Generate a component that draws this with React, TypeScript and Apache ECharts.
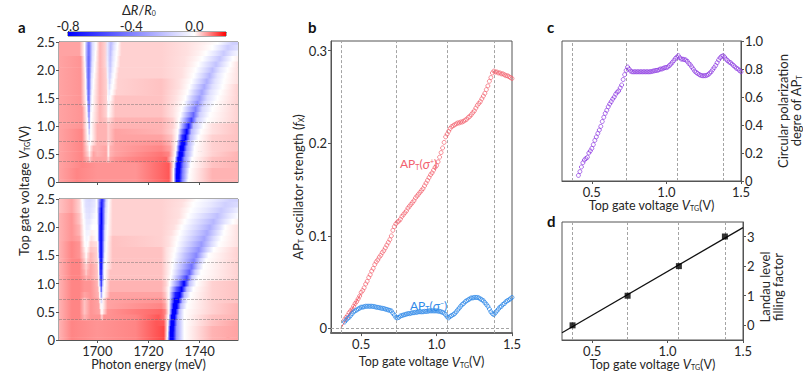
import React, { useEffect, useRef } from "react";
import * as echarts from "echarts";

const plateaus = [0.37, 0.735, 1.075, 1.38];
const energyTicks = [1700, 1720, 1740];
const gateTicks = [0, 0.5, 1, 1.5, 2, 2.5];
const voltageTicks = [0.5, 1, 1.5];
const strengthTicks = [0, 0.1, 0.2, 0.3];
const polarizationTicks = [0, 0.2, 0.4, 0.6, 0.8, 1];
const fillingTicks = [0, 1, 2, 3];
const colorbarTicks = [-0.8, -0.4, 0];

// reflectance rows: [gate voltage, energy, dR/R0 x100, energy, dR/R0 x100, ...]
const rowsSigmaMinus: number[][] = [
  [2.5, 1685,6, 1693,6, 1695,0, 1696,-30, 1696.7,-45, 1698,-12, 1699.5,0, 1701,5, 1703,3, 1704,-8, 1705.3,-22, 1706.5,-10, 1708,0, 1709.5,3, 1725,3, 1735,2, 1742,1, 1747,0, 1750,-8, 1752.8,-15, 1755,-15],
  [2.4, 1685,6, 1693,6, 1695,0, 1696,-32, 1696.7,-47, 1698,-12, 1699.5,0, 1701,5, 1703,3, 1704,-8, 1705.2,-22, 1706.4,-9, 1707.8,0, 1709.5,3, 1725,3, 1735,2, 1741,1, 1745,0, 1748,-8, 1751,-16, 1755,-10],
  [2.3, 1685,6, 1693,6, 1695,0, 1696,-33, 1696.7,-48, 1698,-11, 1699.3,0, 1701,5, 1703,3, 1704,-8, 1705.1,-21, 1706.2,-8, 1707.6,0, 1709.5,3, 1725,3, 1735,2, 1739.5,1, 1742.5,0, 1746,-8, 1749.4,-17, 1753,-7, 1755,-3],
  [2.2, 1685,6, 1693.5,7, 1695.1,0, 1696,-35, 1696.7,-50, 1698,-10, 1699.2,0, 1701,5, 1703,3, 1704,-7, 1705,-20, 1706.1,-8, 1707.4,0, 1709,3, 1725,3, 1734,2, 1738,1, 1741,0, 1744.5,-9, 1747.9,-18, 1751,-7, 1753,0, 1755,1],
  [2.1, 1685,6, 1693.5,7, 1695.2,0, 1696,-35, 1696.7,-50, 1697.9,-10, 1699,0, 1701,5, 1703,3, 1704,-6, 1705,-19, 1706,-7, 1707.2,0, 1709,3, 1725,3, 1734,2, 1737,1, 1739.5,0, 1743,-10, 1746.4,-19, 1749.5,-8, 1752,0, 1755,2],
  [2.0, 1685,6, 1693.5,7, 1695.3,0, 1696,-35, 1696.7,-50, 1697.8,-10, 1698.9,0, 1701,5, 1703.3,3, 1704,-5, 1705,-17, 1705.9,-6, 1706.9,0, 1708.5,3, 1725,3, 1733,2, 1738.5,0, 1742,-11, 1745,-21, 1748,-8, 1751,0, 1755,2],
  [1.9, 1685,6, 1693.5,7, 1695.4,0, 1696,-35, 1696.7,-50, 1697.7,-10, 1698.7,0, 1701,5, 1703.4,3, 1704,-4, 1704.9,-15, 1705.8,-4, 1706.6,0, 1708.3,3, 1725,3, 1733,2, 1737.7,0, 1741,-12, 1743.9,-23, 1747,-8, 1750,0, 1755,2],
  [1.8, 1685,6, 1693.5,7, 1695.5,0, 1696.1,-35, 1696.7,-50, 1697.6,-10, 1698.5,0, 1701,5, 1703.5,3, 1704.1,-3, 1704.8,-13, 1705.5,-4, 1706.3,0, 1708,3, 1725,4, 1732,2, 1736.8,0, 1740,-13, 1742.8,-25, 1746,-9, 1749.5,0, 1755,2],
  [1.7, 1685,6, 1693.5,7, 1695.5,0, 1696.1,-35, 1696.7,-50, 1697.6,-10, 1698.4,0, 1701,5, 1703.5,3, 1704.1,-2, 1704.7,-10, 1705.3,-3, 1706,0, 1708,3, 1725,4, 1732,2, 1736,0, 1739,-14, 1741.8,-27, 1745,-10, 1749,0, 1755,3],
  [1.6, 1685,6, 1693.5,7, 1695.6,0, 1696.2,-35, 1696.7,-50, 1697.5,-10, 1698.2,0, 1701,5, 1703.6,3, 1704.1,-1, 1704.6,-7, 1705.1,-2, 1705.7,0, 1707.5,3, 1725,4, 1731,2, 1735.3,0, 1738,-15, 1740.9,-29, 1744,-10, 1748,0, 1755,3],
  [1.5, 1685,6, 1693.5,7, 1695.7,0, 1696.2,-35, 1696.7,-50, 1697.4,-10, 1698,0, 1701,5, 1703.6,3, 1704,0, 1704.5,-4, 1705,0, 1705.5,1, 1707,4, 1725,4, 1730.5,2, 1734.5,0, 1737,-16, 1740,-31, 1743,-11, 1747,0, 1755,3],
  [1.4, 1685,6, 1693.5,7, 1695.8,0, 1696.3,-30, 1696.8,-45, 1697.4,-8, 1698,0, 1701,5, 1703.5,3, 1704.3,-2, 1705,1, 1707,4, 1725,4, 1730,2, 1733.8,0, 1736.5,-18, 1739.2,-35, 1742,-12, 1746,0, 1755,3],
  [1.3, 1685,6, 1694,7, 1695.9,0, 1696.4,-30, 1696.8,-45, 1697.3,-8, 1697.9,0, 1701,5, 1703.5,3, 1704.2,-1, 1705,1, 1707,4, 1725,4, 1729.5,2, 1733,0, 1735.7,-20, 1738.4,-40, 1741,-13, 1745,0, 1755,3],
  [1.2, 1685,6, 1694,7, 1696,0, 1696.4,-25, 1696.8,-40, 1697.2,-6, 1697.7,0, 1701,5, 1703.5,3, 1704.2,0, 1704.9,1, 1707,4, 1725,4, 1729.5,2, 1732.5,0, 1735,-24, 1737.6,-48, 1740,-15, 1744,0, 1755,3],
  [1.1, 1685,6, 1694,7, 1696.1,0, 1696.5,-22, 1696.8,-35, 1697.2,-5, 1697.6,0, 1701,5, 1703.5,4, 1704.2,2, 1705,3, 1707,5, 1725,5, 1729.5,3, 1732,0, 1734.5,-30, 1736.8,-60, 1739,-16, 1743,0, 1755,3],
  [1.0, 1685,6, 1694,7, 1696.1,0, 1696.6,-15, 1696.9,-25, 1697.2,-4, 1697.5,0, 1700,5, 1703.5,5, 1704.2,3, 1705,4, 1707,5, 1725,5, 1729.5,3, 1731.8,0, 1734,-40, 1735.7,-72, 1737.6,-20, 1741.5,0, 1745,2, 1755,4],
  [0.9, 1685,6, 1694,8, 1696.2,0, 1696.6,-10, 1696.9,-15, 1697.2,-3, 1697.5,0, 1700,5, 1703.5,5, 1704.2,3, 1705,4, 1707,6, 1725,5, 1729,3, 1731.5,0, 1733.5,-50, 1735,-80, 1736.8,-22, 1740.5,0, 1745,2, 1755,4],
  [0.8, 1685,6, 1694,8, 1696.3,0, 1696.7,-6, 1697,-8, 1697.3,-1, 1697.6,0, 1700,5, 1703.5,5, 1704.2,3, 1705,4, 1707,6, 1725,6, 1729,4, 1731.3,0, 1733.2,-65, 1734.5,-85, 1736.3,-22, 1739.5,0, 1745,3, 1755,4],
  [0.7, 1685,6, 1694,8, 1696.4,1, 1696.8,-3, 1697.2,-1, 1697.6,1, 1700,5, 1703.5,5, 1704.3,2, 1705,4, 1707,6, 1725,7, 1728.5,5, 1731,0, 1732.8,-75, 1734,-90, 1735.6,-25, 1738.5,0, 1745,3, 1755,4],
  [0.6, 1685,6, 1694,8, 1696.4,2, 1696.9,0, 1697.4,2, 1698.5,5, 1700,5, 1703.5,6, 1704.3,1, 1705,5, 1707,6, 1725,8, 1728.5,6, 1730.8,0, 1732.4,-80, 1733.6,-95, 1735,-30, 1738,0, 1745,3, 1755,4],
  [0.5, 1685,6, 1694,8, 1696.4,3, 1696.9,1, 1697.4,3, 1698.5,6, 1700,5, 1703.5,6, 1704.3,1, 1705,5, 1707,6, 1725,9, 1728,8, 1730.5,0, 1732,-80, 1733.2,-95, 1734.6,-30, 1737.8,0, 1745,3, 1755,5],
  [0.4, 1685,6, 1694,8, 1696.5,5, 1696.9,3, 1697.5,5, 1698.5,6, 1700,6, 1703.5,6, 1704.3,3, 1705,6, 1707,7, 1722,9, 1727,10, 1730.3,0, 1731.5,-85, 1732.7,-95, 1734,-35, 1737,0, 1745,4, 1755,5],
  [0.3, 1685,6, 1694,8, 1700,7, 1715,7, 1725,10, 1728,11, 1730,0, 1731.1,-85, 1732.3,-95, 1733.6,-40, 1736.5,0, 1745,4, 1755,5],
  [0.2, 1685,6, 1692,8, 1700,7, 1715,7, 1725,10, 1728,11, 1729.8,0, 1731,-85, 1732.1,-95, 1733.4,-40, 1736,0, 1745,5, 1755,5],
  [0.1, 1685,6, 1692,8, 1700,7, 1715,7, 1725,10, 1728,11, 1729.8,0, 1730.9,-85, 1732,-95, 1733.3,-40, 1735.8,0, 1745,5, 1755,5],
  [0, 1685,6, 1692,8, 1700,7, 1715,7, 1725,10, 1728,11, 1729.8,0, 1730.9,-85, 1732,-95, 1733.2,-40, 1735.5,0, 1745,5, 1755,5],
];

const rowsSigmaPlus: number[][] = [
  [2.5, 1685,4, 1690,6, 1693,3, 1694,0, 1695.5,-10, 1697,-12, 1699,-8, 1699.7,0, 1700.9,-40, 1701.8,-70, 1702.6,-45, 1703.4,-12, 1704.5,0, 1706,3, 1725,3, 1734,2, 1738.7,0, 1745,-6, 1751.7,-14, 1755,-14],
  [2.4, 1685,4, 1690,6, 1693,3, 1694.2,0, 1695.5,-10, 1697,-11, 1699,-7, 1699.8,0, 1700.9,-45, 1701.7,-72, 1702.5,-45, 1703.3,-12, 1704.4,0, 1706,3, 1725,3, 1733,2, 1737.5,0, 1744,-7, 1750,-15, 1755,-11],
  [2.3, 1685,4, 1690,6, 1693,3, 1694.3,0, 1695.6,-9, 1697,-10, 1698.8,-6, 1699.8,0, 1700.8,-50, 1701.6,-78, 1702.4,-45, 1703.2,-12, 1704.3,0, 1706,3, 1725,3, 1732,2, 1736.5,0, 1742.5,-8, 1748.4,-17, 1753,-9, 1755,-5],
  [2.2, 1685,5, 1690,7, 1693,4, 1694.5,0, 1695.7,-8, 1697,-9, 1698.5,-4, 1699.9,0, 1700.8,-55, 1701.6,-80, 1702.3,-50, 1703.1,-12, 1704.2,0, 1706,3, 1725,3, 1732,2, 1735.5,0, 1741,-10, 1746.9,-20, 1751.5,-8, 1755,-1],
  [2.1, 1685,5, 1690,7, 1693,4, 1694.7,0, 1695.8,-7, 1697,-7, 1698.3,-2, 1699.9,0, 1700.8,-55, 1701.6,-80, 1702.3,-50, 1703.1,-12, 1704.1,0, 1706,3, 1725,3, 1731,2, 1734.2,0, 1740,-12, 1745.4,-23, 1750,-8, 1753,0, 1755,1],
  [2.0, 1685,5, 1690,7, 1693,5, 1694.8,0, 1695.8,-6, 1696.8,-5, 1698,0, 1700,0, 1700.8,-60, 1701.5,-85, 1702.2,-55, 1703,-10, 1704,0, 1706,3, 1725,3, 1730,2, 1733,0, 1739,-13, 1744,-25, 1748,-10, 1750,0, 1755,2],
  [1.9, 1685,5, 1690,7, 1693,5, 1694.9,0, 1695.8,-4, 1696.7,-3, 1697.8,1, 1700,0, 1700.8,-60, 1701.5,-85, 1702.2,-50, 1702.9,-10, 1703.8,0, 1706,3, 1725,3, 1729,2, 1732.2,0, 1738,-14, 1742.9,-27, 1747,-10, 1749.5,0, 1755,2],
  [1.8, 1685,5, 1690,7, 1693,6, 1695,0, 1695.8,-3, 1696.6,-1, 1697.6,2, 1700,0, 1700.8,-60, 1701.5,-85, 1702.2,-50, 1702.9,-10, 1703.7,0, 1706,4, 1725,3, 1728,2, 1731.5,0, 1737,-15, 1741.8,-29, 1745.5,-11, 1748.5,0, 1755,2],
  [1.7, 1685,5, 1690,8, 1693,7, 1695.1,0, 1695.7,-2, 1696.3,0, 1697.4,3, 1699.8,2, 1700.2,0, 1700.9,-60, 1701.5,-85, 1702.1,-50, 1702.8,-10, 1703.5,0, 1706,4, 1725,3, 1728,2, 1731,0, 1736,-16, 1740.7,-32, 1744.5,-12, 1747.5,0, 1755,2],
  [1.6, 1685,5, 1690,8, 1693,7, 1695.2,1, 1695.6,0, 1696.2,1, 1697.4,4, 1699.8,3, 1700.2,0, 1700.9,-60, 1701.5,-85, 1702.1,-50, 1702.8,-10, 1703.4,0, 1706,4, 1725,4, 1727,2, 1730.5,0, 1735,-18, 1739.7,-35, 1743,-13, 1745.5,0, 1755,3],
  [1.5, 1685,5, 1690,8, 1693,7, 1695.2,2, 1695.6,0, 1696.1,2, 1697.4,5, 1699.8,3, 1700.3,0, 1700.9,-60, 1701.5,-85, 1702.1,-50, 1702.7,-8, 1703.3,0, 1706,4, 1725,4, 1727,2, 1730,0, 1734.3,-20, 1738.7,-38, 1741.5,-14, 1743.5,0, 1755,3],
  [1.4, 1685,5, 1690,8, 1693,8, 1695.2,3, 1695.6,1, 1696.1,3, 1697.4,5, 1699.9,3, 1700.4,0, 1701,-60, 1701.5,-85, 1702,-50, 1702.6,-8, 1703.2,0, 1706,4, 1725,4, 1727,2, 1729.6,0, 1733.8,-20, 1737.8,-40, 1740.3,-14, 1742.5,0, 1755,3],
  [1.3, 1685,5, 1690,8, 1693,8, 1695.2,4, 1695.6,3, 1696.1,4, 1697.4,6, 1699.9,4, 1700.5,0, 1701,-60, 1701.5,-80, 1702,-45, 1702.5,-6, 1703,0, 1706,4, 1725,4, 1727,2, 1729.3,0, 1733.2,-22, 1736.9,-45, 1739.3,-16, 1741.5,0, 1755,3],
  [1.2, 1685,5, 1690,8, 1693,8, 1695.2,5, 1695.6,3, 1696.1,5, 1697.4,6, 1700,4, 1700.5,0, 1701,-55, 1701.5,-75, 1702,-40, 1702.5,-6, 1702.9,0, 1705,4, 1725,4, 1727,2, 1729,0, 1732.8,-25, 1736,-50, 1738.2,-16, 1740.5,0, 1755,3],
  [1.1, 1685,5, 1690,8, 1693,8, 1695,6, 1695.7,5, 1696.3,6, 1697.4,6, 1700,4, 1700.6,0, 1701.1,-50, 1701.5,-72, 1702,-35, 1702.8,0, 1705,4, 1725,4, 1726.8,2, 1728.7,0, 1732.3,-30, 1735,-60, 1737,-16, 1739.5,0, 1755,3],
  [1.0, 1685,5, 1690,8, 1693,8, 1695,7, 1697.4,7, 1700,5, 1700.6,0, 1701.1,-35, 1701.6,-62, 1702.1,-16, 1702.8,0, 1705,5, 1725,5, 1726.8,3, 1728.3,0, 1731.8,-40, 1733.9,-80, 1736,-20, 1738.7,0, 1745,3, 1755,4],
  [0.9, 1685,5, 1690,8, 1693,8, 1695,7, 1697.4,7, 1700.2,5, 1700.8,0, 1701.2,-25, 1701.6,-48, 1702,-12, 1702.6,0, 1705,5, 1725,5, 1726.5,3, 1728,0, 1731,-55, 1733,-90, 1735,-20, 1737.5,0, 1745,3, 1755,4],
  [0.8, 1685,5, 1690,8, 1693,8, 1695,6, 1697.4,7, 1700.4,5, 1700.9,0, 1701.3,-15, 1701.6,-28, 1702,-8, 1702.5,0, 1705,6, 1725,6, 1726.5,4, 1728,0, 1730.5,-70, 1732.3,-95, 1734,-22, 1736.5,0, 1745,3, 1755,4],
  [0.7, 1685,5, 1690,8, 1693,8, 1695,4, 1697.4,7, 1700.4,6, 1701,1, 1701.6,-10, 1702.2,1, 1704,6, 1725,7, 1726.5,5, 1728,0, 1730.2,-80, 1731.7,-95, 1733.3,-22, 1735.5,0, 1745,3, 1755,4],
  [0.6, 1685,5, 1690,8, 1693,8, 1695,4, 1697.4,7, 1700.6,6, 1701.2,1, 1701.7,-2, 1702.2,1, 1704,6, 1725,8, 1726.5,6, 1728,0, 1729.8,-85, 1731.1,-95, 1732.6,-22, 1735,0, 1745,3, 1755,5],
  [0.5, 1685,5, 1690,8, 1693,8, 1695,4, 1697.4,7, 1700.8,6, 1701.3,2, 1701.8,0, 1702.3,2, 1704,7, 1725,10, 1726.5,8, 1728,0, 1729.4,-85, 1730.6,-95, 1732,-22, 1734,0, 1745,3, 1755,5],
  [0.4, 1685,5, 1690,8, 1693,8, 1695,5, 1697.4,7, 1701,7, 1701.8,3, 1702.5,7, 1715,8, 1724,11, 1726,9, 1727.8,0, 1729,-85, 1730.2,-95, 1731.5,-25, 1734,0, 1745,4, 1755,5],
  [0.3, 1685,5, 1690,8, 1700,7, 1715,8, 1723,11, 1726,11, 1727.6,0, 1728.8,-85, 1729.9,-95, 1731.2,-28, 1734,0, 1745,4, 1755,6],
  [0.2, 1685,5, 1690,8, 1700,7, 1715,8, 1723,11, 1726,12, 1727.5,0, 1728.6,-85, 1729.7,-95, 1731,-30, 1734,0, 1745,5, 1755,6],
  [0.1, 1685,5, 1690,8, 1700,7, 1715,8, 1723,11, 1726,12, 1727.4,0, 1728.5,-85, 1729.6,-95, 1731,-30, 1734,0, 1745,5, 1755,6],
  [0, 1685,5, 1690,8, 1700,7, 1715,8, 1723,11, 1726,12, 1727.3,0, 1728.5,-85, 1729.6,-95, 1731,-30, 1734,0, 1745,5, 1755,6],
];

const gateVoltages = [
  0.39,0.40,0.41,0.42,0.43,0.44,0.45,0.46,0.47,0.48,0.49,0.50,0.51,0.52,0.53,0.54,0.55,0.56,0.57,0.58,0.59,0.60,
  0.61,0.62,0.63,0.64,0.65,0.66,0.67,0.68,0.69,0.70,0.71,0.72,0.73,0.74,0.75,0.76,0.77,0.78,0.79,0.80,
  0.81,0.82,0.83,0.84,0.85,0.86,0.87,0.88,0.89,0.90,0.91,0.92,0.93,0.94,0.95,0.96,0.97,0.98,0.99,1.00,
  1.01,1.02,1.03,1.04,1.05,1.06,1.07,1.08,1.09,1.10,1.11,1.12,1.13,1.14,1.15,1.16,1.17,1.18,1.19,1.20,
  1.21,1.22,1.23,1.24,1.25,1.26,1.27,1.28,1.29,1.30,1.31,1.32,1.33,1.34,1.35,1.36,1.37,1.38,1.39,1.40,
  1.41,1.42,1.43,1.44,1.45,1.46,1.47,1.48,1.49,1.50,
];
const strengthSigmaPlus = [
  .0095,.012,.014,.017,.019,.021,.024,.027,.029,.032,.035,.039,.041,.044,.048,.051,.055,.058,.062,.065,.069,.072,
  .074,.077,.079,.082,.084,.087,.090,.093,.096,.100,.106,.110,.113,.115,.116,.118,.121,.123,.125,.127,
  .130,.132,.134,.136,.138,.141,.143,.145,.147,.149,.151,.154,.157,.160,.163,.166,.168,.171,.174,.176,
  .180,.185,.190,.195,.201,.207,.210,.213,.216,.218,.219,.220,.221,.222,.222,.223,.223,.224,.225,.226,
  .228,.229,.231,.233,.235,.238,.241,.243,.245,.248,.251,.254,.258,.262,.267,.271,.276,.278,.277,.277,
  .276,.276,.275,.275,.274,.273,.273,.272,.271,.270,
];
const strengthSigmaMinus = [
  .007,.009,.011,.012,.014,.016,.018,.019,.020,.021,.022,.023,.023,.0235,.024,.024,.024,.024,.024,.0238,.0235,.023,
  .0228,.0225,.022,.0218,.0215,.021,.0205,.020,.0195,.019,.0165,.0145,.012,.0115,.012,.0135,.014,.0145,.015,.0155,
  .016,.016,.0165,.017,.017,.0175,.0175,.018,.018,.018,.018,.0185,.0185,.0185,.019,.019,.019,.019,.019,.019,
  .0188,.0185,.018,.0175,.0165,.015,.0125,.0115,.013,.014,.015,.016,.018,.020,.022,.024,.026,.027,.029,.030,
  .031,.032,.033,.033,.0335,.0335,.0335,.033,.032,.031,.030,.028,.026,.024,.021,.018,.016,.015,.017,.019,
  .021,.023,.024,.026,.027,.029,.030,.031,.032,.0335,
];
const polarizationVoltages = gateVoltages.slice(2);
const polarizationDegree = [
  .04,.067,.10,.13,.15,.16,.17,.20,.215,.233,.26,.29,.315,.34,.364,.39,.425,.455,.483,.505,
  .53,.55,.567,.585,.60,.62,.635,.643,.665,.686,.725,.76,.79,.814,.80,.785,.78,.78,.78,.78,
  .78,.78,.78,.78,.78,.78,.78,.78,.78,.782,.785,.787,.79,.79,.795,.80,.80,.805,.81,.81,
  .815,.825,.835,.848,.86,.875,.885,.895,.88,.871,.87,.868,.864,.855,.84,.83,.815,.80,.785,.775,
  .768,.76,.755,.752,.752,.752,.755,.76,.77,.78,.795,.81,.825,.845,.865,.88,.89,.895,.885,.87,
  .86,.85,.845,.835,.825,.815,.805,.80,.79,.78,
];
const fillingVoltages = plateaus;
const fillingFactors = [0, 1, 2, 3];
const fillingFitVoltages = [0.3, 1.5];
const fillingFit = [-0.25, 3.3];
const oscillatorFitVoltages = [0.365, 0.5];
const oscillatorFit = [0, 0.038];

const FONT = "Lato";
const TEXT = "#262626";
const LINE = "#555555";
const RED = "#f2616e";
const BLUE = "#2f8ae8";
const PURPLE = "#8a35e0";

function colorOf(hundredths: number, gain = 1) {
  const v = hundredths / 100;
  if (v < 0) {
    const t = Math.min(1, -v / 0.8);
    const c = Math.round(255 * (1 - t));
    return `rgb(${c},${c},255)`;
  }
  const c = Math.round(255 * (1 - Math.min(1, (gain * v) / 0.2)));
  return `rgb(255,${c},${c})`;
}

function heatRenderer(rows: number[][]) {
  return (params: any, api: any) => {
    const row = rows[params.dataIndex];
    const v = row[0];
    const p0 = api.coord([1685, Math.min(2.5, v + 0.05)]);
    const p1 = api.coord([1755, Math.max(0, v - 0.05)]);
    const stops: { offset: number; color: string }[] = [];
    for (let i = 1; i < row.length; i += 2) {
      stops.push({ offset: (row[i] - 1685) / 70, color: colorOf(row[i + 1], 1.2) });
    }
    return {
      type: "rect",
      shape: { x: p0[0], y: p0[1], width: p1[0] - p0[0], height: p1[1] - p0[1] + 0.6 },
      style: { fill: new echarts.graphic.LinearGradient(0, 0, 1, 0, stops), stroke: null },
    };
  };
}

const fmt1 = (v: number) => (v === 0 ? "0" : v.toFixed(1));
const rich = {
  i: { fontStyle: "italic", fontFamily: FONT, fontSize: 13, color: TEXT },
  s: { fontSize: 7, fontFamily: FONT, color: TEXT, verticalAlign: "bottom" },
};
const vtgName = "Top gate voltage {i|V}{s|TG}(V)";

function axisX(gridIndex: number, min: number, max: number, ticks: number[], show: boolean, name?: string, format?: (v: number) => string) {
  return {
    type: "value", gridIndex, min, max, splitLine: { show: false },
    name, nameLocation: "middle", nameGap: 15,
    nameTextStyle: { fontFamily: FONT, fontSize: 12.5, color: TEXT, rich },
    axisLine: { show: true, onZero: false, lineStyle: { color: LINE, width: 1 } },
    axisTick: { show: true, length: 3, customValues: ticks, lineStyle: { color: LINE } },
    axisLabel: { show, margin: 4, fontFamily: FONT, fontSize: 13, color: TEXT, customValues: ticks, formatter: format ?? ((v: number) => `${v}`), hideOverlap: false, showMinLabel: true, showMaxLabel: true },
  };
}
function axisY(gridIndex: number, min: number, max: number, ticks: number[], position: string, show = true, extra: any = {}) {
  return {
    type: "value", gridIndex, min, max, position, splitLine: { show: false },
    axisLine: { show: true, onZero: false, lineStyle: { color: LINE, width: 1 } },
    axisTick: { show: true, length: 3, customValues: ticks, lineStyle: { color: LINE } },
    axisLabel: { show, margin: 4, fontFamily: FONT, fontSize: 13, color: TEXT, customValues: ticks, formatter: fmt1, showMinLabel: true, showMaxLabel: true },
    nameLocation: "middle",
    nameTextStyle: { fontFamily: FONT, fontSize: 13, color: TEXT, rich },
    ...extra,
  };
}

const guideStyle = { color: "#a4a4a4", width: 1, type: [3, 2] as number[] };
const vGuides = {
  silent: true, symbol: "none", animation: false, label: { show: false },
  lineStyle: guideStyle, data: plateaus.map((v) => ({ xAxis: v })),
};
const hGuides = {
  silent: true, symbol: "none", animation: false, label: { show: false },
  lineStyle: { color: "rgba(110,110,110,0.45)", width: 1, type: [3, 1] as number[] }, data: plateaus.map((v) => ({ yAxis: v })),
};

const txt = (x: number, y: number, text: string, style: any = {}, extra: any = {}) => ({
  type: "text", x, y, ...extra,
  style: { text, fontFamily: FONT, fontSize: 13, fill: TEXT, ...style },
});
const apRich = (c: string) => ({
  s: { fontFamily: FONT, fontSize: 7, fill: c, color: c, verticalAlign: "bottom" },
  i: { fontFamily: FONT, fontSize: 13, fontStyle: "italic", fill: c, color: c },
  u: { fontFamily: FONT, fontSize: 7, fill: c, color: c, verticalAlign: "top" },
});

function buildOption() {
  const grids = [
    { left: 59, top: 42, width: 179, height: 140 },
    { left: 59, top: 199, width: 179, height: 141 },
    { left: 331, top: 41, width: 181, height: 299 },
    { left: 562, top: 41, width: 181, height: 140 },
    { left: 562, top: 222, width: 181, height: 118 },
    { left: 68, top: 32, width: 158, height: 4 },
  ].map((g) => ({ ...g, show: true, borderColor: LINE, borderWidth: 1, backgroundColor: "transparent" }));

  const voltageAxis = (i: number) => axisX(i, 0.3, 1.5, voltageTicks, true, vtgName, (v) => v.toFixed(1));
  const axisC = voltageAxis(3);
  const axisPol = axisY(3, 0, 1, polarizationTicks, "right", true, { name: "Circular polarization\ndegre of AP{s|T}", nameRotate: 90, nameGap: 35 });
  return {
    animation: false,
    grid: grids,
    xAxis: [
      axisX(0, 1685, 1755, energyTicks, false),
      { ...axisX(1, 1685, 1755, energyTicks, true, "Photon energy (meV)"), nameGap: 13 },
      { ...voltageAxis(2), axisLine: { show: true, onZero: false, lineStyle: { color: "#666", width: 2 } } },
      { ...axisC, axisLabel: { ...axisC.axisLabel, margin: 6, lineHeight: 9 }, nameGap: 12 },
      voltageAxis(4),
      {
        ...axisX(5, -0.8, 0.2, colorbarTicks, true, undefined, (v) => v.toFixed(1)), position: "top",
        axisTick: { show: true, length: 1, customValues: colorbarTicks, lineStyle: { color: LINE } },
        axisLabel: { margin: 0, fontFamily: FONT, fontSize: 13, color: TEXT, customValues: colorbarTicks, formatter: (v: number) => v.toFixed(1) },
      },
    ],
    yAxis: [
      axisY(0, 0, 2.5, gateTicks, "left"),
      axisY(1, 0, 2.5, gateTicks, "left"),
      axisY(2, -0.005, 0.3105, strengthTicks, "left", true, { name: "AP{s|T} oscillator strength ({i|f}{s|X})", nameGap: 24 }),
      { ...axisPol, axisLabel: { ...axisPol.axisLabel, lineHeight: 9 } },
      axisY(4, -0.495, 3.49, fillingTicks, "right", true, { name: "Landau level\nfilling factor", nameRotate: 90, nameGap: 14, nameTextStyle: { fontFamily: FONT, fontSize: 13, color: TEXT, padding: [0, 12, 0, 0] }, axisLabel: { margin: 4, fontFamily: FONT, fontSize: 13, color: TEXT, customValues: fillingTicks, formatter: (v: number) => `${v}` } }),
      { type: "value", gridIndex: 5, min: 0, max: 1, axisLine: { show: false }, axisTick: { show: false }, axisLabel: { show: false }, splitLine: { show: false } },
    ],
    series: [
      {
        type: "custom", xAxisIndex: 0, yAxisIndex: 0, clip: true, silent: true,
        data: rowsSigmaMinus.map((r) => [1685, r[0]]), renderItem: heatRenderer(rowsSigmaMinus), markLine: hGuides,
      },
      {
        type: "custom", xAxisIndex: 1, yAxisIndex: 1, clip: true, silent: true,
        data: rowsSigmaPlus.map((r) => [1685, r[0]]), renderItem: heatRenderer(rowsSigmaPlus), markLine: hGuides,
      },
      {
        type: "line", xAxisIndex: 2, yAxisIndex: 2, symbol: "none", silent: true,
        lineStyle: { color: RED, width: 1 },
        data: oscillatorFitVoltages.map((v, i) => [v, oscillatorFit[i]]),
        markLine: {
          silent: true, symbol: "none", label: { show: false }, lineStyle: guideStyle,
          data: [...plateaus.map((v) => ({ xAxis: v })), { yAxis: 0 }],
        },
      },
      {
        type: "scatter", xAxisIndex: 2, yAxisIndex: 2, symbol: "circle", symbolSize: 4, silent: true, z: 6,
        itemStyle: { color: "transparent", borderColor: RED, borderWidth: 0.9 },
        data: gateVoltages.map((v, i) => [v, strengthSigmaPlus[i]]),
      },
      {
        type: "scatter", xAxisIndex: 2, yAxisIndex: 2, symbol: "circle", symbolSize: 4, silent: true, z: 6,
        itemStyle: { color: "transparent", borderColor: BLUE, borderWidth: 1 },
        data: gateVoltages.map((v, i) => [v, strengthSigmaMinus[i]]),
      },
      {
        type: "scatter", xAxisIndex: 3, yAxisIndex: 3, symbol: "circle", symbolSize: 4, silent: true, z: 6,
        itemStyle: { color: "transparent", borderColor: PURPLE, borderWidth: 0.9 },
        data: polarizationVoltages.map((v, i) => [v, polarizationDegree[i]]),
        markLine: vGuides,
      },
      {
        type: "line", xAxisIndex: 4, yAxisIndex: 4, symbol: "none", silent: true, z: 6,
        lineStyle: { color: "#111", width: 1.3 },
        data: fillingFitVoltages.map((v, i) => [v, fillingFit[i]]),
        markLine: vGuides,
      },
      {
        type: "scatter", xAxisIndex: 4, yAxisIndex: 4, symbol: "rect", symbolSize: 6, silent: true, z: 8,
        itemStyle: { color: "#000" },
        data: fillingVoltages.map((v, i) => [v, fillingFactors[i]]),
      },
      {
        type: "custom", xAxisIndex: 5, yAxisIndex: 5, silent: true, data: [[-0.8, 0]],
        renderItem: (_p: any, api: any) => {
          const a = api.coord([-0.8, 1]);
          const b = api.coord([0.2, 0]);
          return {
            type: "rect",
            shape: { x: a[0], y: a[1], width: b[0] - a[0], height: b[1] - a[1] },
            style: {
              fill: new echarts.graphic.LinearGradient(0, 0, 1, 0, [
                { offset: 0, color: colorOf(-80) },
                { offset: 0.8, color: colorOf(0) },
                { offset: 1, color: colorOf(20) },
              ]),
            },
          };
        },
      },
    ],
    graphic: [
      txt(18, 19, "a", { fontWeight: "bold", fontSize: 15, fill: "#111" }),
      txt(308, 19, "b", { fontWeight: "bold", fontSize: 15, fill: "#111" }),
      txt(547, 19, "c", { fontWeight: "bold", fontSize: 15, fill: "#111" }),
      txt(547, 213, "d", { fontWeight: "bold", fontSize: 15, fill: "#111" }),
      txt(122, 3, "Δ{i|R}/{i|R}{s|0}", { rich: apRich(TEXT), fontSize: 13 }),
      txt(28, 191, "Top gate voltage {i|V}{s|TG}(V)", { rich: apRich(TEXT), align: "center", verticalAlign: "middle", fontSize: 13 }, { rotation: Math.PI / 2, x: 24, y: 191 }),
      txt(67, 73, "AP{s|S}", { fill: "#b5434d", rich: apRich("#b5434d") }),
      txt(115, 79, "AP{s|T}", { fill: "#2a8a2a", rich: apRich("#2a8a2a") }),
      txt(196, 146, "X", { fill: "#111", fontSize: 12 }),
      txt(225, 167, "{i|σ}{u|-}", { rich: apRich(BLUE) }),
      txt(64, 226, "AP{s|S}", { fill: "#b5434d", rich: apRich("#b5434d") }),
      txt(112, 231, "AP{s|T}", { fill: "#2a8a2a", rich: apRich("#2a8a2a") }),
      txt(192, 303, "X", { fill: "#111", fontSize: 12 }),
      txt(225, 326, "{i|σ}{u|+}", { rich: apRich(RED) }),
      txt(400, 157, "AP{s|T}({i|σ}{u|+})", { fill: RED, rich: apRich(RED), fontSize: 12 }),
      txt(410, 299, "AP{s|T}({i|σ}{u|−})", { fill: BLUE, rich: apRich(BLUE), fontSize: 12 }),
    ],
  };
}

export default function App() {
  const ref = useRef<HTMLDivElement>(null);
  useEffect(() => {
    if (!ref.current) return;
    const chart = echarts.init(ref.current, undefined, { renderer: "svg" });
    chart.setOption(buildOption() as any);
    return () => chart.dispose();
  }, []);
  return <div ref={ref} style={{ position: "fixed", left: 0, top: 0, width: 803, height: 373, background: "#fff" }} />;
}
